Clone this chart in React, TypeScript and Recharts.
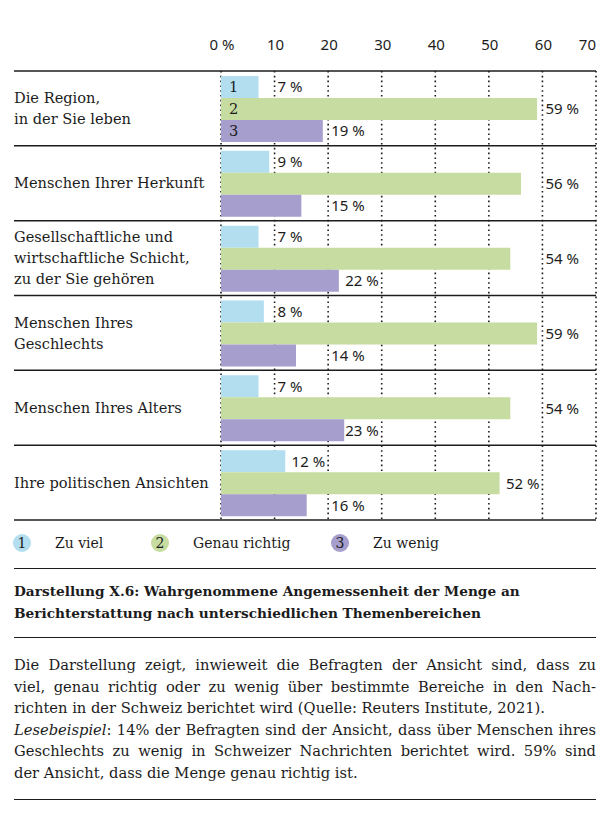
import React from "react";
import {
  BarChart,
  Bar,
  XAxis,
  YAxis,
  CartesianGrid,
  LabelList,
} from "recharts";

// row labels, top to bottom
const categories = [
  "Die Region,\nin der Sie leben",
  "Menschen Ihrer Herkunft",
  "Gesellschaftliche und\nwirtschaftliche Schicht,\nzu der Sie gehören",
  "Menschen Ihres\nGeschlechts",
  "Menschen Ihres Alters",
  "Ihre politischen Ansichten",
];
const zuViel = [7, 9, 7, 8, 7, 12];
const genauRichtig = [59, 56, 54, 59, 54, 52];
const zuWenig = [19, 15, 22, 14, 23, 16];
const xTicks = [0, 10, 20, 30, 40, 50, 60, 70];
const seriesNames = ["Zu viel", "Genau richtig", "Zu wenig"];

const COLORS = ["#b2def0", "#c6dca0", "#a69ecc"];
const INK = "#1c1c1c";
const SERIF = "'DejaVu Serif', serif";
const SANS = "'Noto Sans', sans-serif";

const W = 605;
const CHART_H = 530;
const PLOT_TOP = 71;
const PLOT_BOTTOM = 520;
const PLOT_LEFT = 221;
const PLOT_RIGHT = 596;
const LINE_LEFT = 14;
const BAND = (PLOT_BOTTOM - PLOT_TOP) / categories.length;

const data = categories.map((name, i) => ({
  name,
  v1: zuViel[i],
  v2: genauRichtig[i],
  v3: zuWenig[i],
}));

const keys = ["v1", "v2", "v3"];

function XTick(props: any) {
  const { x, payload, index } = props;
  const v = payload.value;
  const last = index === xTicks.length - 1;
  return (
    <text
      x={last ? x : x + 1}
      y={50}
      textAnchor={last ? "end" : "middle"}
      fontFamily={SANS}
      fontSize={15}
      fill={INK}
    >
      {v === 0 ? "0 %" : v}
    </text>
  );
}

function YTick(props: any) {
  const { y, payload, index } = props;
  const lines = String(payload.value).split("\n");
  const lh = 21;
  const start = y - ((lines.length - 1) * lh) / 2;
  const top = y - BAND / 2;
  return (
    <g>
      <line x1={LINE_LEFT} x2={PLOT_RIGHT} y1={top} y2={top} stroke={INK} strokeWidth={1.5} />
      {index === categories.length - 1 && (
        <line
          x1={LINE_LEFT}
          x2={PLOT_RIGHT}
          y1={y + BAND / 2}
          y2={y + BAND / 2}
          stroke={INK}
          strokeWidth={1.5}
        />
      )}
      <text fontFamily={SERIF} fontSize={14.6} fill={INK}>
        {lines.map((l, i) => (
          <tspan key={i} x={LINE_LEFT} y={start + i * lh} dy="0.35em">
            {l}
          </tspan>
        ))}
      </text>
    </g>
  );
}

function ValueLabel(props: any) {
  const { x, y, width, height, value } = props;
  const px = width / value;
  const grid = Math.ceil(value / 10) * 10;
  const gx = x + grid * px;
  const end = x + width;
  const fits = gx - end >= 35;
  return (
    <text
      x={fits ? gx - 3 : gx + 3}
      y={y + height / 2}
      dy="0.36em"
      textAnchor={fits ? "end" : "start"}
      fontFamily={SANS}
      fontSize={15}
      fill={INK}
    >
      {value} %
    </text>
  );
}

function makeNumberLabel(n: number) {
  return (props: any) => {
    const { x, y, height, index } = props;
    if (index !== 0) return null;
    return (
      <text
        x={x + 8}
        y={y + height / 2}
        dy="0.36em"
        fontFamily={SERIF}
        fontSize={14.6}
        fill={INK}
      >
        {n}
      </text>
    );
  };
}

function Rule({ top }: { top: number }) {
  return (
    <div
      style={{
        position: "absolute",
        left: LINE_LEFT,
        width: PLOT_RIGHT - LINE_LEFT,
        top,
        height: 0,
        borderTop: `1.5px solid ${INK}`,
      }}
    />
  );
}

const paraLines: { text: React.ReactNode; justify: boolean }[] = [
  { text: "Die Darstellung zeigt, inwieweit die Befragten der Ansicht sind, dass zu", justify: true },
  { text: "viel, genau richtig oder zu wenig über bestimmte Bereiche in den Nach-", justify: true },
  { text: "richten in der Schweiz berichtet wird (Quelle: Reuters Institute, 2021).", justify: false },
  {
    text: (
      <>
        <i>Lesebeispiel</i>: 14% der Befragten sind der Ansicht, dass über Menschen ihres
      </>
    ),
    justify: true,
  },
  { text: "Geschlechts zu wenig in Schweizer Nachrichten berichtet wird. 59% sind", justify: true },
  { text: "der Ansicht, dass die Menge genau richtig ist.", justify: false },
];

export default function App() {
  const legendX = [22, 160, 340];
  return (
    <div
      style={{
        position: "absolute",
        left: 0,
        top: 0,
        width: W,
        height: 817,
        background: "#fff",
        fontFamily: SERIF,
        color: INK,
      }}
    >
      <BarChart
        width={W}
        height={CHART_H}
        data={data}
        layout="vertical"
        margin={{ top: PLOT_TOP - 30, right: W - PLOT_RIGHT, bottom: CHART_H - PLOT_BOTTOM, left: 0 }}
        barGap={0}
        barCategoryGap={5}
      >
        <CartesianGrid
          horizontal={false}
          stroke={INK}
          strokeWidth={1.6}
          strokeDasharray="1.6 3.2"
        />
        <XAxis
          type="number"
          orientation="top"
          domain={[0, 70]}
          ticks={xTicks}
          height={30}
          axisLine={false}
          tickLine={false}
          tick={<XTick />}
          interval={0}
        />
        <YAxis
          type="category"
          dataKey="name"
          width={PLOT_LEFT}
          axisLine={false}
          tickLine={false}
          tick={<YTick />}
          interval={0}
        />
        {keys.map((k, i) => (
          <Bar
            key={k}
            dataKey={k}
            name={seriesNames[i]}
            fill={COLORS[i]}
            isAnimationActive={false}
          >
            <LabelList dataKey={k} content={makeNumberLabel(i + 1)} />
            <LabelList dataKey={k} content={<ValueLabel />} />
          </Bar>
        ))}
      </BarChart>

      {/* legend */}
      {seriesNames.map((n, i) => (
        <React.Fragment key={n}>
          <div
            style={{
              position: "absolute",
              left: legendX[i] - 9,
              top: 543 - 9,
              width: 18,
              height: 18,
              borderRadius: "50%",
              background: COLORS[i],
              fontSize: 14,
              lineHeight: "18px",
              textAlign: "center",
            }}
          >
            {i + 1}
          </div>
          <div
            style={{
              position: "absolute",
              left: legendX[i] + 33,
              top: 543 - 11,
              fontSize: 14,
              lineHeight: "22px",
              whiteSpace: "nowrap",
            }}
          >
            {n}
          </div>
        </React.Fragment>
      ))}
      <Rule top={568} />

      <div
        style={{
          position: "absolute",
          left: LINE_LEFT,
          top: 580,
          width: PLOT_RIGHT - LINE_LEFT,
          fontSize: 13.7,
          fontWeight: "bold",
          lineHeight: "22px",
        }}
      >
        Darstellung X.6: Wahrgenommene Angemessenheit der Menge an
        <br />
        Berichterstattung nach unterschiedlichen Themenbereichen
      </div>
      <Rule top={637} />

      <div
        style={{
          position: "absolute",
          left: LINE_LEFT,
          top: 654,
          width: PLOT_RIGHT - LINE_LEFT,
          fontSize: 14.7,
          lineHeight: "21.6px",
        }}
      >
        {paraLines.map((l, i) => (
          <div
            key={i}
            style={{
              whiteSpace: "nowrap",
              textAlign: l.justify ? "justify" : "left",
              textAlignLast: l.justify ? "justify" : "left",
            }}
          >
            {l.text}
          </div>
        ))}
      </div>
      <Rule top={799} />
    </div>
  );
}
